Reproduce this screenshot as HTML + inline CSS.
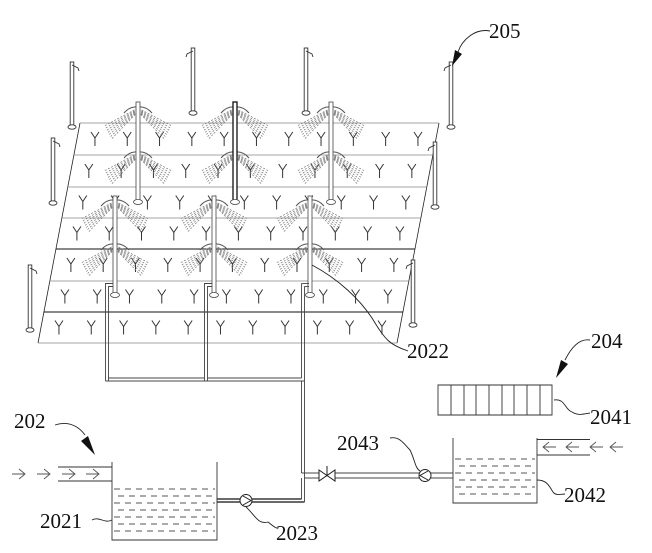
<!DOCTYPE html>
<html><head><meta charset="utf-8"><style>
html,body{margin:0;padding:0;background:#fff;}
svg{display:block;}
text{font-family:"Liberation Serif",serif;font-size:21px;fill:#111;}
</style></head><body>
<svg id="s" width="652" height="553" viewBox="0 0 652 553" xmlns="http://www.w3.org/2000/svg">
<g id="field" fill="none" stroke="#666" stroke-width="0.8"></g>
<g id="plants" fill="none" stroke="#333" stroke-width="1"></g>
<g id="spr" fill="none"></g>
<g id="poles" fill="#fff" stroke="#333" stroke-width="0.9"></g>
<g fill="none" stroke="#444" stroke-width="0.9">
<path d="M105.5,381 V283.5 H113"/><path d="M108.5,381 V286.5 H113"/>
<path d="M204.5,381 V283.5 H212"/><path d="M207.5,378 V286.5 H212"/>
<path d="M301.5,283.5 H309"/><path d="M304.5,286.5 H309"/>
<path d="M105.5,381 H304.5"/><path d="M108.5,378 H204.5"/><path d="M207.5,378 H301.5"/>
<path d="M301.5,283.5 V378"/><path d="M304.5,286.5 V502"/>
<path d="M207.5,378 V381"/>
<path d="M301.5,381 V473"/>
<path d="M301.5,473 H322 M301.5,478 V499 M332,473 H420 M332,478 H420 M430,473 H453 M430,478 H453 M322,478 H304.5"/>
<path d="M217,499 H240 M217,502 H240 M252,499 H301.5 M252,502 H304.5" stroke="#111" stroke-width="1.2"/>
</g>
<path d="M319,470 L335,481 L335,470 L319,481 Z" fill="#fff" stroke="#222"/>
<path d="M327,466 V475" stroke="#222"/>
<circle cx="246" cy="500.5" r="6" fill="#fff" stroke="#222"/><path d="M243,496 L251,500.5 L243,505" fill="none" stroke="#222"/>
<circle cx="425" cy="475.5" r="6" fill="#fff" stroke="#222"/><path d="M428,471 L420,475.5 L428,480" fill="none" stroke="#222"/>
<g fill="none" stroke="#333" stroke-width="0.9">
<path d="M112,462 V540 H217 V462"/>
<path d="M58,467 H112 M58,481 H112"/>
<path d="M453,438 V503 H537 V438"/>
<path d="M537,439.5 H590 M537,455 H590"/>
<path d="M438,385 H552 V415 H438 Z M451,385 V415 M464,385 V415 M476,385 V415 M489,385 V415 M502,385 V415 M514,385 V415 M527,385 V415 M540,385 V415"/>
</g>
<g id="water" stroke="#555" stroke-width="0.9" stroke-dasharray="6,5"></g>
<g id="arr" fill="none" stroke="#555" stroke-width="0.9"></g>
<g fill="none" stroke="#222" stroke-width="0.9">
<path d="M312,265 C340,280 360,300 372,318 C385,340 390,345 408,351"/>
<path d="M246,507 C255,515 258,525 268,522 C272,525 275,528 277,528"/>
<path d="M92,520 C100,516 104,524 112,520"/>
<path d="M390,438 C400,436 405,445 410,450 C415,460 415,468 420,471"/>
<path d="M537,480 C548,480 550,488 553,492 C556,496 560,494 565,494"/>
<path d="M554,400 C565,398 565,410 572,412 C578,416 584,414 590,413"/>
<path d="M490,31 C475,28 462,40 458,52"/>
<path d="M590,340 C578,338 570,350 565,360"/>
<path d="M55,425 C70,420 80,428 85,435"/>
</g>
<path d="M452,66 L455,50 L462,54 Z" fill="#111"/>
<path d="M556,378 L561,360 L568,364 Z" fill="#111"/>
<path d="M95,455 L81,441 L88,436 Z" fill="#111"/>
<text x="489" y="38">205</text>
<text x="407" y="358">2022</text>
<text x="591" y="348">204</text>
<text x="590" y="424">2041</text>
<text x="337" y="450">2043</text>
<text x="564" y="502">2042</text>
<text x="14" y="428">202</text>
<text x="40" y="528">2021</text>
<text x="276" y="540">2023</text>
<script>
const NS="http://www.w3.org/2000/svg";
function el(p,t,a){const e=document.createElementNS(NS,t);for(const k in a)e.setAttribute(k,a[k]);document.getElementById(p).appendChild(e);return e;}
const lx=y=>80+(y-123)*(-42/220), rx=y=>439+(y-123)*(-42/220);
el("field","path",{d:`M${lx(123)},123 L${lx(343)},343 M${rx(123)},123 L${rx(343)},343`,stroke:"#222"});
[123,155,187,218,249,281,312,343].forEach(y=>{
 const dark=(y==249||y==312);
 el("field","line",{x1:lx(y),y1:y,x2:rx(y),y2:y,stroke:dark?"#111":"#888","stroke-width":dark?1.1:0.8});
});
const bands=[[123,155],[155,187],[187,218],[218,249],[249,281],[281,312],[312,343]];
bands.forEach(([a,b])=>{
 const cy=(a+b)/2; const x0=lx(cy)+18;
 for(let i=0;i<11;i++){const x=x0+i*32.3; if(x>rx(cy)-10)break;
  el("plants","path",{d:`M${x-4},${cy-7} L${x},${cy-1} L${x+4},${cy-7} M${x},${cy-1} V${cy+7}`});}
});
function spr(x,top,bot,hubs,dark){
 hubs.forEach(h=>{
  for(let s of [-1,1]){
   for(let k=0;k<7;k++){
    const th=(28+k*3)*Math.PI/180, L=38, st=4;
    el("spr","line",{x1:x+s*st*Math.cos(th),y1:h-2+st*Math.sin(th)+k*0.6,x2:x+s*L*Math.cos(th),y2:h-2+L*Math.sin(th)+k*0.6,stroke:"#777","stroke-width":0.7,"stroke-dasharray":"2,1.5"});
   }
   el("spr","path",{d:`M${x},${h-3} Q${x+s*8},${h-4} ${x+s*14},${h+3}`,stroke:"#555","stroke-width":1,fill:"none"});
  }
 });
 el("spr","rect",{x:x-2,y:top,width:4,height:bot-top,fill:"#fff",stroke:dark?"#111":"#444","stroke-width":dark?1.3:0.8});
 el("spr","ellipse",{cx:x,cy:bot,rx:4.5,ry:2.5,fill:"#fff",stroke:"#444","stroke-width":0.8});
}
spr(138,102,202,[110,155]);spr(235,102,202,[110,155],true);spr(331,102,202,[110,155]);
spr(115,196,295,[203,247]);spr(214,196,295,[203,247]);spr(310,196,295,[203,247]);
function pole(x,t,b,dir){
 el("poles","rect",{x:x-1.8,y:t,width:3.6,height:b-t});
 el("poles","ellipse",{cx:x,cy:b,rx:4,ry:2.2});
 el("poles","path",{d:`M${x},${t+3} l${dir*6},${3} l${dir*1},3`,fill:"none"});
}
pole(72,62,127,1);pole(193,48,113,-1);pole(306,48,113,1);pole(451,62,127,-1);
pole(53,138,203,1);pole(30,265,330,1);pole(435,142,207,-1);pole(413,260,325,-1);
function water(x1,x2,y1,y2){for(let y=y1,i=0;y<=y2;y+=7,i++){el("water","line",{x1:x1+2+(i%2)*4,y1:y,x2:x2-2,y2:y});}}
water(112,217,489,537);water(453,537,459,500);
[12,37,62,86].forEach(x=>el("arr","path",{d:`M${x},474 H${x+13} M${x+7},469 L${x+13},474 L${x+7},479`}));
[543,566,590,610].forEach(x=>el("arr","path",{d:`M${x},447 H${x+13} M${x+6},442 L${x},447 L${x+6},452`}));
</script>
</svg>
</body></html>
